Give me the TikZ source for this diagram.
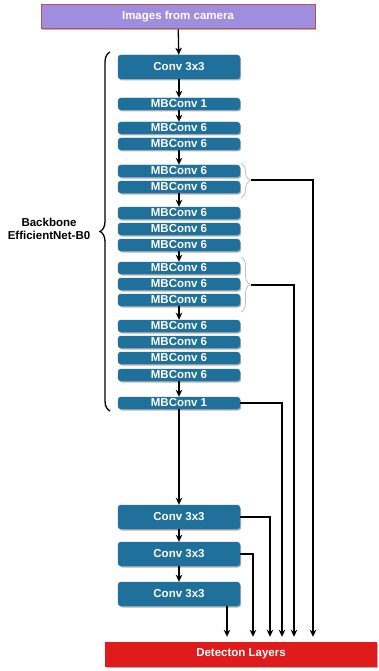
\documentclass[tikz,border=0pt]{standalone}
\usepackage{fontspec}
\setmainfont{Liberation Sans}
\usetikzlibrary{arrows.meta, decorations.pathreplacing, shadows}
\definecolor{layerblue}{RGB}{31,113,156}
\definecolor{campurple}{RGB}{161,141,224}
\definecolor{camborder}{RGB}{184,84,80}
\definecolor{detred}{RGB}{224,27,27}
\definecolor{bracegray}{rgb}{0.75,0.75,0.75}

\begin{document}
\begin{tikzpicture}[x=1pt, y=-1pt,
		every node/.style={font=\fontsize{11.5}{13.5}\selectfont\bfseries, text=white, inner sep=0pt},
		boxshadow/.style={drop shadow={shadow xshift=1.2pt, shadow yshift=-1.5pt, opacity=0.3, fill=black}},
		layer/.style={fill=layerblue, draw=layerblue, rounded corners=3pt, minimum width=122pt, boxshadow},
		conv/.style={layer, minimum height=24pt},
		mbconv/.style={layer, minimum height=12pt},
		arr/.style={-{Stealth[length=7pt, width=6.5pt, inset=2pt]}, line width=1.3pt},
		feed/.style={arr, shorten >=5pt}]
		\useasboundingbox (0,0) rectangle (378,671);
		% input and output
		\node [fill=campurple, draw=camborder, line width=1pt, minimum width=274pt, minimum height=24pt, boxshadow] (cam) at (178,17) {Images from camera};
		\node [fill=detred, draw=detred, minimum width=271pt, minimum height=24pt, boxshadow] (det) at (241,654) {Detecton Layers};
		% backbone
		\node [conv] (c1) at (179,67) {Conv 3x3};
		\foreach \n/\y/\k in {m1/104/1, m2/128/6, m3/144/6, m4/171/6, m5/187/6, m6/213/6, m7/229/6, m8/245/6, m9/268/6, m10/284/6, m11/300/6, m12/326/6, m13/342/6, m14/358/6, m15/375/6, m16/403/1}{
			\node [mbconv] (\n) at (179,\y) {MBConv \k};
		}
		% extra layers
		\node [conv] (c2) at (179,517) {Conv 3x3};
		\node [conv] (c3) at (179,554) {Conv 3x3};
		\node [conv] (c4) at (179,594) {Conv 3x3};
		\foreach \a/\b in {cam/c1, c1/m1, m1/m2, m3/m4, m5/m6, m8/m9, m11/m12, m15/m16, m16/c2, c2/c3, c3/c4}{
			\draw [arr] (\a) -- (\b);
		}
		% braces
		\draw [line width=1.3pt, decorate, decoration={brace, amplitude=10pt}] (110,411) -- (110,52);
		\node [text=black, align=center] (backbone) at (49,229) {Backbone\\EfficientNet-B0};
		\draw [bracegray, line width=0.8pt, decorate, decoration={brace, amplitude=9pt}] (241,163) -- (241,198);
		\draw [bracegray, line width=0.8pt, decorate, decoration={brace, amplitude=9pt}] (241,257) -- (241,312);
		\coordinate (g1) at (251,180);
		\coordinate (g2) at (251,285);
		% feature taps down to the detection head
		\coordinate (k1) at (313,180);
		\coordinate (k2) at (294,285);
		\coordinate (k3) at (282,403);
		\coordinate (k4) at (270,517);
		\coordinate (k5) at (253,554);
		\coordinate (k6) at (227,606);
		\draw [feed] (g1) -- (k1) -- (k1 |- det.north);
		\draw [feed] (g2) -- (k2) -- (k2 |- det.north);
		\draw [feed] (m16.east) -- (k3) -- (k3 |- det.north);
		\draw [feed] (c2.east) -- (k4) -- (k4 |- det.north);
		\draw [feed] (c3.east) -- (k5) -- (k5 |- det.north);
		\draw [feed] (k6) -- (k6 |- det.north);
	\end{tikzpicture}
\end{document}
